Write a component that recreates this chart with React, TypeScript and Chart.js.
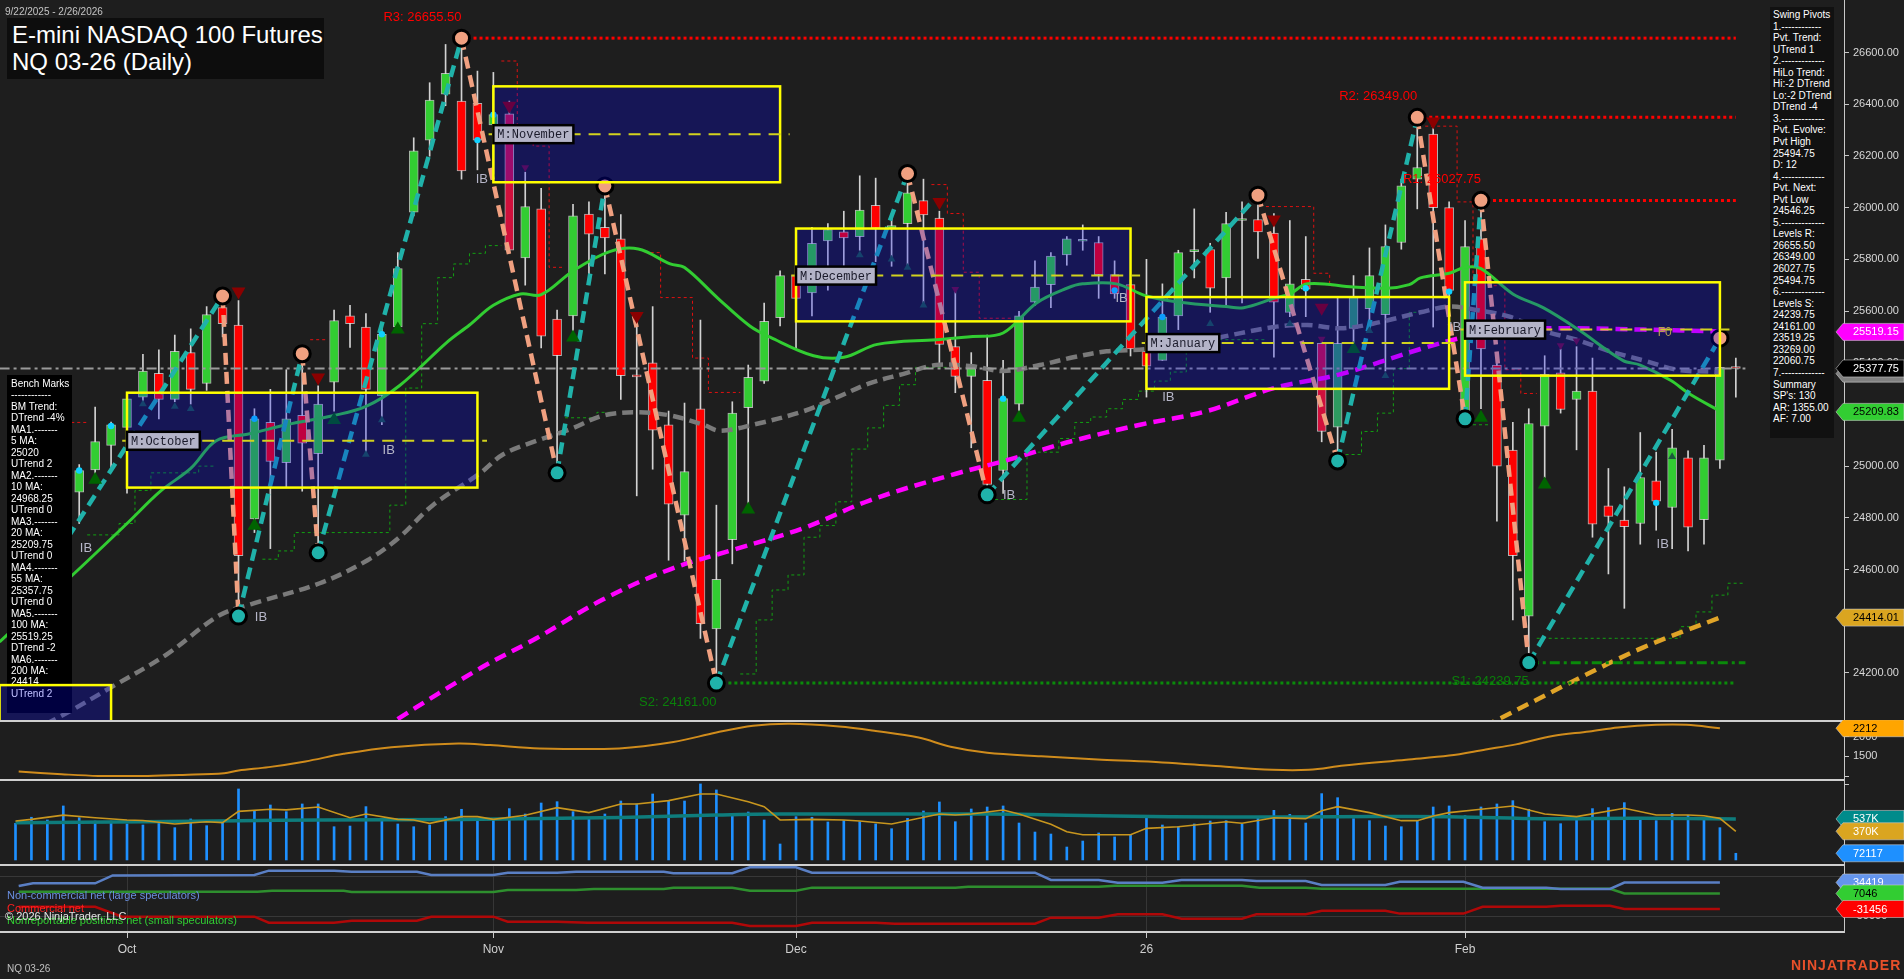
import React, { useEffect, useRef } from 'react';
import { Chart, registerables } from 'chart.js';
Chart.register(...registerables);

const FONT = '"Liberation Sans", Arial, sans-serif';
const BG = '#1e1e1e';
Chart.defaults.font.family = FONT;

// ---------------- x axis (trading-day index, 9/22/2025 = 0) ----------------
const X_MIN = -0.973;
const X_MAX = 114.79;
const xTicks = [7, 30, 49, 71, 91];
const xTickLabels = ['Oct', 'Nov', 'Dec', '26', 'Feb'];

// ---------------- daily candles ----------------
const opens = [24850,24930,24900,24760,24899,24985,25080,25150,25267,25359,
25258,25439,25320,25613,25546,24796,25169,25013,25196,25048,
25325,25581,25538,25272,25538,25982,26261,26439,26412,26403,
26320,26363,25805,25995,25569,25581,25975,25924,25879,25350,
25400,25160,24810,25222,24370,24716,25226,25329,25574,25737,
25670,25871,25906,25888,26009,25920,25938,26027,25959,25462,
25347,25332,24983,25240,25634,25702,25817,25870,25865,25741,
25702,25444,25409,25581,25830,25838,25728,25950,25954,25901,
25595,25723,25475,25151,25533,25609,25586,25865,26110,26284,
26000,25178,25879,25391,25062,24420,25155,25361,25258,25290,
24846,24791,24778,24943,24840,25032,24793,25023,25380];
const highs = [24960,25010,24950,24900,25006,25228,25170,25285,25432,25450,
25507,25531,25617,25658,25640,25222,25297,25373,25435,25311,
25604,25622,25590,25551,25826,26270,26483,26631,26655.5,26528,
26523,26412,26137,26075,25604,26013,26022,26084,25973,25560,
25617,25213,25244,25565,24849,25249,25391,25631,25755,25760,
25924,25938,25986,26123,26114,25968,26132,26110,25986,25680,
25439,25507,25409,25599,25794,25826,25888,25933,25888,25794,
25720,25800,25705,25835,25995,25862,25982,26022,26048,25977,
25950,25888,25497,25649,25737,25844,25933,26110,26349,26333,
26022,25950,26028,25400,25169,25222,25427,25453,25462,25418,
24991,24920,25130,25054,25142,25059,25080,25495,25418];
const lows = [24800,24860,24600,24690,24778,24970,24975,24895,25249,25183,
25249,25240,25293,25500,24420,24743,24681,24920,24903,24665,
25213,25459,25045,25160,25524,25968,26199,26394,26110,26146,
26130,25830,25700,25457,24974,25520,25737,25743,25258,24885,
24988,24636,24633,24334,24161,24622,24849,25320,25542,25453,
25581,25681,25720,25835,25791,25773,25773,25631,25400,25284,
25071,24889,24894,25213,25622,25613,25777,25835,25649,25649,
25426,25267,25409,25528,25728,25595,25617,25631,25803,25421,
25578,25578,25094,25020,25453,25524,25368,25839,25995,25538,
25657,25160,25222,24787,24405,24240,24956,25205,25063,24725,
24583,24450,24698,24752,24681,24672,24698,24991,25267];
const closes = [24930,24900,24760,24880,24983,25095,25160,25260,25368,25258,
25444,25297,25586,25551,24654,25183,25018,25183,25089,25240,
25563,25551,25297,25510,25764,26220,26416,26519,26142,26261,
26360,25835,26004,25503,25427,25968,25897,25883,25350,25345,
25139,24853,24979,24391,24562,25205,25343,25560,25737,25649,
25862,25915,25883,25990,25920,25930,26057,25972,25471,25347,
25382,24929,25261,25581,25693,25812,25879,25872,25741,25666,
25453,25387,25577,25826,25836,25688,25938,25955,25906,25634,
25705,25684,25134,25475,25657,25737,25849,26084,26155,26000,
25680,25849,25453,25000,24654,25165,25355,25219,25290,24775,
24805,24766,24956,24864,25071,24764,25032,25382,25377.75];
const crimsonBars = [31, 82];
const seaGreenBars = [83, 84];

// ---------------- moving averages ----------------
const ma20Idx = [-1,3.5,7,9.1,11,12.6,14.7,17,20,22,24.1,27.1,28.5,30,31.7,33,35,37.3,39.1,41.1,42,44.1,46.1,47.4,50.1,52,54.1,57.8,60.1,62,64.1,66,67,69.1,71,73.1,76,77.1,79,80,81.1,84,86.1,87.5,88.2,90,91,92,94,95.9,98,100.9,102,103.9,105.1,107];
const ma20Val = [24320,24574,24778,24903,24991,25098,25125,25160,25196,25231,25311,25480,25546,25622,25666,25663,25755,25830,25840,25782,25768,25649,25542,25498,25427,25421,25471,25489,25501,25515,25631,25688,25705,25705,25658,25634,25617,25613,25649,25666,25705,25693,25688,25702,25728,25746,25769,25764,25666,25613,25533,25409,25391,25332,25279,25213];
const ma55Idx = [-1,2.4,6.1,9.5,12.8,14.9,19.1,22.1,24.1,26.2,29.2,30.6,32.7,34.8,36.9,39,41.1,43.2,44.2,46.3,49.5,51.6,53.6,55.7,57.8,60.1,62,64.3,66.4,68.5,71,74.8,79,81.1,83.2,85.2,88.2,90,91.7,93.8,95.9,98,100.1,102.2,104.3,107];
const ma55Val = [23920,24018,24148,24272,24423,24468,24547,24636,24725,24849,24974,25045,25098,25142,25196,25208,25196,25160,25137,25160,25213,25267,25320,25356,25391,25386,25368,25391,25421,25444,25453,25489,25538,25546,25533,25551,25595,25617,25604,25578,25524,25489,25444,25409,25373,25364];
const ma100Idx = [20,23.9,29.2,32.7,36.9,41.1,45.3,49.5,53.6,58.7,62.2,66.4,70.6,74.8,79,83.2,88.2,90.9,93.8,98,102.2,107];
const ma100Val = [23860,24018,24219,24334,24485,24601,24681,24761,24867,24965,25022,25098,25160,25213,25302,25356,25453,25498,25528,25533,25528,25521];
const ma200Idx = [90,93,98,102.2,107];
const ma200Val = [23930,24018,24175,24299,24414];

// ---------------- swing pivots ----------------
const pivIdx = [2,13,14,18,19,28,34,37,44,56,61,78,83,88,91,92,95,107];
const pivPrice = [24600,25658,24420,25435,24665,26655.5,24974,26084,24161,26132,24889,26048,25020,26349,25183,26028,24240,25495];
const levelNames = ['R3','R2','R1','S2','S1'];
const levelVals = [26655.5,26349,26027.75,24161,24239.75];
const levelFrom = [28,88,92,44,95];
const levelTo = [108,108,108,108,108.6];
const lastPrice = 25377.75;

// trailing step stops
const supIdx = [5,6,7,8,9,10,11,12,16,17,18,19,20,21,22,23,24,25,26,27,28,29,30,35,36,37,46,47,48,49,50,51,52,53,54,55,56,57,58,62,63,64,65,66,67,68,69,70,71,72,73,74,75,76,77,78,84,85,86,87,88,92,96,97,98,99,100,101,102,103,104,105,106,107,108];
const supVal = [24734,24734,24778,24906,24974,24974,24974,25000,24640,24672,24743,24743,24743,24743,24743,24743,24849,25302,25551,25729,25782,25823,25853,25187,25187,25208,24196,24405,24521,24579,24725,24770,24862,25066,25148,25235,25315,25382,25382,24871,24871,25054,25054,25107,25169,25190,25222,25258,25290,25329,25364,25489,25489,25489,25489,25489,25045,25134,25205,25377,25595,25160,24334,24334,24334,24334,24334,24334,24334,24334,24334,24379,24436,24501,24547];
const resIdx = [4,19,31,32,33,34,40,41,42,43,44,45,58,59,60,61,62,79,80,81,82,83,89,90,91,92,93,94,95];
const resVal = [25169,25489,26567,26320,26238,25769,25826,25652,25652,25418,25285,25285,26089,25977,25750,25572,25572,26004,26004,26004,25746,25698,26315,26315,26022,25698,25698,25373,25281];

// markers
const bigUpIdx = [5,15,20,24,35,46,63,84,92,96];
const bigUpVal = [24947,24769,25178,25528,25498,24832,25187,25453,25187,24929];
const smallUpIdx = [8,10,11,22,23,53,55,56,57,75,80,85,86,104];
const smallUpVal = [25240,25231,25222,25045,25178,25817,25800,25768,25622,25551,25551,25524,25350,25036];
const bigDnIdx = [14,19,31,39,58,79,82,89];
const bigDnVal = [25675,25343,26394,25581,26022,25954,25613,26333];
const smallDnIdx = [32,59,82,97,98];
const smallDnVal = [26155,25684,25492,25467,25485];
const cyanIdx = [4,6,15,23,29,30,62,69,72,81,90,103];
const cyanVal = [24983,25155,25183,25510,26261,26359,25261,25680,25577,25688,25675,24858];
const ibIdx = [4.05,15.03,23.05,28.9,62,69.06,72,90,103.03];
const ibVal = [24681,24414,25059,26110,24885,25649,25265,25538,24698];

// monthly range boxes
const boxNames = ['M:October','M:November','M:December','M:January','M:February'];
const boxStart = [7,30,49,71,91];
const boxEnd = [29,48,70,90,107];
const boxHigh = [25284,26469,25919,25654,25711];
const boxLow = [24917,26098,25560,25299,25350];
const boxMid = [25098,26284,25737,25476,25528];
const sepBox = { start: -1, end: 6, high: 24153, low: 23800 };

// right-axis value tags
const mainTagVals = [25519.15, 25357.75, lastPrice, 25209.83, 24414.01];
const mainTagBg = ['#ff00ff','#808080','#000000','#32cd32','#daa520'];
const mainTagFg = ['#ffffff','#000000','#ffffff','#000000','#000000'];

// ---------------- lower panels ----------------
const atrIdx = [0.2,2.9,5.2,8.3,10.5,13.1,14,15.9,18.2,20.6,23.6,27.8,29.8,32.9,37.9,41.3,44,46.3,48.6,51.7,54,56.7,58.7,61,64.4,68.2,72,75.1,78.9,81.2,83.4,87.3,90,92.3,94.2,96.5,98.8,100.6,103,104.9,107];
const atrVal = [1114,1046,1003,1003,1028,1072,1140,1226,1371,1562,1732,1827,1784,1699,1699,1861,2103,2273,2325,2258,2144,1974,1740,1588,1500,1415,1345,1260,1157,1157,1268,1415,1518,1673,1802,2016,2129,2232,2300,2300,2212];
const atrLast = 2212;

const volumeK = [478,560,523,713,554,509,509,469,455,487,
419,537,446,487,943,645,726,636,740,740,
432,441,704,523,469,432,455,568,668,523,
545,677,604,753,771,636,541,604,780,740,
875,780,780,1011,930,600,631,523,198,568,
560,496,514,500,469,405,545,645,767,500,
672,699,713,482,360,333,157,238,347,293,
315,554,455,432,469,509,514,464,568,654,
600,482,880,825,541,514,441,432,509,699,
713,581,699,740,785,668,500,473,541,677,
690,758,541,514,613,586,527,419,72.117];
const volAvgIdx = [0,1,3,5,7,8,10,12,13,14,16,17,19,21,22,24,25,26,28,29,30,32,34,36,38,39,41,43,44,46,47,48,50,52,53,55,58,59,60,62,63,65,66,67,70,71,73,76,77,79,81,82,83,85,87,88,89,90,92,94,96,98,101,103,105,106,107,108];
const volAvgK = [509,531,589,554,523,516,469,500,487,640,668,660,699,554,604,531,523,478,568,568,531,586,690,623,740,740,785,875,875,771,704,523,531,523,509,469,604,590,604,658,604,464,364,324,324,410,432,500,478,554,541,649,704,623,514,514,577,623,668,713,604,568,681,590,590,581,545,370];
const volSlowIdx = [0,8,14,19,28,38,44,48,53,59,63,69,76,83,90,96,102,108];
const volSlowK = [487,500,514,523,531,558,590,604,604,604,600,577,563,568,568,541,545,537];
const volTagVals = [537000, 370000, 72117];
const volTagText = ['537K','370K','72117'];
const volTagBg = ['#008b8b','#daa520','#1e90ff'];

const cotLargeIdx = [0.2,1.1,5,6.1,15,15.9,20,21.1,25.2,26.1,30,30.9,34,35.2,40.7,41.3,45,46.1,49,50,64,65,68,69.2,72,73.2,77,77.9,81,82,86,86.9,90.9,92.1,96.1,97,100.1,101,107];
const cotLargeVal = [25700,32400,32400,52000,53000,63800,63800,61300,61300,53100,53100,58800,58800,61300,61300,57300,57300,72200,72200,58800,58800,40600,40600,34000,34000,40600,40600,38100,38100,28200,28200,36400,36400,21600,21600,18200,18200,34419,34419];
const cotCommIdx = [0.2,5,6.7,15,15.9,20,21.1,25.2,26.1,30,30.9,34,35.9,45,46.1,49,50,54,55.2,64,65,68,69.2,72,73.2,77,77.9,81,82,86,86.9,90.9,92.1,96.1,97,100.1,101,107];
const cotCommVal = [-25800,-25800,-50600,-50600,-65600,-65600,-60600,-60600,-50600,-50600,-63100,-63100,-65600,-65600,-73800,-73800,-65600,-65600,-68000,-68000,-53100,-53100,-44700,-44700,-55600,-55600,-44700,-44700,-35700,-35700,-43000,-43000,-25800,-25800,-23300,-23300,-31456,-31456];
const cotSmallIdx = [0.2,15.2,16.1,20.6,21.1,30,30.9,35.2,36.3,40.7,41.3,45,46.1,49,50,59,59.8,68,69,77,78.1,81,82,100.1,101,107];
const cotSmallVal = [11500,11500,14000,14000,10800,10800,15800,15800,18200,18200,21600,21600,14000,14000,21600,21600,24000,24000,26500,26500,21600,21600,19000,19000,7046,7046];
const cotTagVals = [34419, 7046, -31456];
const cotTagBg = ['#6495ed','#32cd32','#ff0000'];
const cotTagFg = ['#ffffff','#000000','#ffffff'];

// ---------------- text blocks ----------------
const benchLines = ['Bench Marks','------------','BM Trend:','DTrend -4%','MA1.-------','5 MA:','25020','UTrend 2','MA2.-------','10 MA:','24968.25','UTrend 0','MA3.-------','20 MA:','25209.75','UTrend 0','MA4.-------','55 MA:','25357.75','UTrend 0','MA5.-------','100 MA:','25519.25','DTrend -2','MA6.-------','200 MA:','24414','UTrend 2'];
const pivotLines = ['Swing Pivots','1.------------','Pvt. Trend:','UTrend 1','2.-------------','HiLo Trend:','Hi:-2 DTrend','Lo:-2 DTrend','DTrend -4','3.-------------','Pvt. Evolve:','Pvt High','25494.75','D: 12','4.-------------','Pvt. Next:','Pvt Low','24546.25','5.-------------','Levels R:','26655.50','26349.00','26027.75','25494.75','6.-------------','Levels S:','24239.75','24161.00','23519.25','23269.00','22060.75','7.-------------','Summary',"SP's: 130",'AR: 1355.00','AF: 7.00'];

// ---------------- helpers ----------------
const pts = (xs: number[], ys: number[]) => xs.map((x, i) => ({ x, y: ys[i] }));
function stepPts(idx: number[], val: number[]) {
  const out: any[] = [];
  idx.forEach((i, k) => {
    if (k > 0 && idx[k - 1] !== i - 1) out.push({ x: i - 0.75, y: null });
    out.push({ x: i - 0.5, y: val[k] }, { x: i + 0.5, y: val[k] });
  });
  return out;
}
function drawTag(ctx: any, y: number, text: string, bg: string, fg: string) {
  ctx.save();
  ctx.beginPath();
  ctx.moveTo(1836, y);
  ctx.lineTo(1843, y - 8.5);
  ctx.lineTo(1904, y - 8.5);
  ctx.lineTo(1904, y + 8.5);
  ctx.lineTo(1843, y + 8.5);
  ctx.closePath();
  ctx.fillStyle = bg;
  ctx.fill();
  ctx.strokeStyle = 'rgba(200,200,200,0.6)';
  ctx.lineWidth = 1;
  ctx.stroke();
  ctx.fillStyle = fg;
  ctx.font = '11px ' + FONT;
  ctx.textBaseline = 'middle';
  ctx.textAlign = 'left';
  ctx.fillText(text, 1853, y + 0.5);
  ctx.restore();
}
function rightAxis(min: number, max: number, ticks: number[], fmt: (v: number) => string, gridOnArea = false) {
  return {
    position: 'right', min, max,
    afterBuildTicks: (s: any) => { s.ticks = ticks.map((v) => ({ value: v })); },
    afterFit: (s: any) => { s.width = 60; s.paddingTop = 0; s.paddingBottom = 0; },
    ticks: { color: '#d8d8d8', font: { size: 11, family: FONT }, padding: 4, autoSkip: false, callback: (v: number) => fmt(v) },
    grid: { drawOnChartArea: gridOnArea, drawTicks: true, tickLength: 5, color: '#383838', tickColor: '#c8c8c8' },
    border: { display: true, color: '#c8c8c8', width: 1 },
  };
}
const hiddenX = { type: 'linear', min: X_MIN, max: X_MAX, display: false, offset: false };
const baseOpts = { responsive: false, animation: false, devicePixelRatio: 1, events: [], layout: { padding: 0, autoPadding: false }, plugins: { legend: { display: false }, tooltip: { enabled: false } } };
const separator = { id: 'sep', afterDraw(chart: any) { const c = chart.ctx; c.save(); c.fillStyle = '#cfcfcf'; c.fillRect(0, 0, 1844, 2); c.restore(); } };

// ---------------- main panel ----------------
function makeMain() {
  const ii = opens.map((_, i) => i);
  const bodyColor = ii.map((i) => crimsonBars.includes(i) ? '#d0103c' : seaGreenBars.includes(i) ? '#2e9a60' : closes[i] >= opens[i] ? '#32cd32' : '#ff0000');
  const pivColors = pivPrice.map((p, k) => {
    const ref = k > 0 ? pivPrice[k - 1] : pivPrice[k + 1];
    return p > ref ? '#f0a080' : '#20b2aa';
  });
  const lineDs = (data: any[], color: string, width: number, dash: number[], order: number, tension = 0.35) => ({
    type: 'line', data, borderColor: color, borderWidth: width, borderDash: dash, pointRadius: 0, tension, order, spanGaps: false, fill: false,
  });
  const markDs = (xs: number[], ys: number[], color: string, r: number, style: string, rot: number) => ({
    type: 'line', data: pts(xs, ys), showLine: false, pointRadius: r, pointStyle: style, pointRotation: rot,
    pointBackgroundColor: color, pointBorderColor: color, pointBorderWidth: 0, order: 2,
  });
  const datasets: any[] = [
    { type: 'bar', data: ii.map((i) => ({ x: i, y: [lows[i], highs[i]] })), backgroundColor: '#d2d2d2', barThickness: 1, grouped: false, order: 9, minBarLength: 1 },
    { type: 'bar', data: ii.map((i) => ({ x: i, y: [opens[i], closes[i]] })), backgroundColor: bodyColor, borderColor: 'rgba(225,225,225,0.75)', borderWidth: 1, borderSkipped: false, barThickness: 9, grouped: false, order: 8, minBarLength: 2 },
    lineDs(stepPts(supIdx, supVal), '#12a012', 1, [3, 3], 10, 0),
    lineDs(stepPts(resIdx, resVal), '#e01010', 1, [3, 3], 10, 0),
    lineDs(pts(ma55Idx, ma55Val), '#7a7a7a', 4.5, [11, 6], 7),
    lineDs(pts(ma100Idx, ma100Val), '#ff00ff', 4.5, [12, 7], 7),
    lineDs(pts(ma200Idx, ma200Val), '#e0a428', 4.5, [12, 7], 7),
    lineDs(pts(ma20Idx, ma20Val), '#32cd32', 3, [], 6),
    lineDs([{ x: -1, y: lastPrice }, { x: 108.6, y: lastPrice }], '#9a9a9a', 2, [10, 4, 3, 4], 5, 0),
  ];
  levelNames.forEach((nm, k) => {
    const isR = nm[0] === 'R';
    const dash = nm === 'S1' ? [10, 4, 3, 4] : [3, 3];
    datasets.push(lineDs([{ x: levelFrom[k], y: levelVals[k] }, { x: levelTo[k], y: levelVals[k] }], isR ? '#ff0000' : '#0a8a0a', 3, dash, 5, 0));
  });
  datasets.push({
    type: 'line', data: pts(pivIdx, pivPrice), borderWidth: 4.5, borderDash: [12, 7], tension: 0, order: 3,
    segment: { borderColor: (c: any) => (c.p1.parsed.y > c.p0.parsed.y ? '#20b2aa' : '#f0a080') },
    borderColor: '#20b2aa',
    pointRadius: 8, pointBackgroundColor: pivColors, pointBorderColor: '#000000', pointBorderWidth: 3,
  });
  datasets.push(markDs(bigUpIdx, bigUpVal, '#006400', 8, 'triangle', 0));
  datasets.push(markDs(smallUpIdx, smallUpVal, '#1c5a3c', 4.5, 'triangle', 0));
  datasets.push(markDs(bigDnIdx, bigDnVal, '#8b0000', 8, 'triangle', 180));
  datasets.push(markDs(smallDnIdx, smallDnVal, '#701030', 4.5, 'triangle', 180));
  datasets.push(markDs(cyanIdx, cyanVal, '#10d0ff', 3.2, 'circle', 0));

  const overlay = {
    id: 'overlay',
    afterDatasetsDraw(chart: any) {
      const { ctx, chartArea: a, scales } = chart;
      const X = (v: number) => scales.x.getPixelForValue(v);
      const Y = (v: number) => scales.y.getPixelForValue(v);
      ctx.save();
      ctx.beginPath();
      ctx.rect(a.left, a.top, a.right - a.left, a.bottom - a.top);
      ctx.clip();
      const drawBox = (s: number, e: number, hi: number, lo: number) => {
        const x0 = X(s), x1 = X(e), y0 = Y(hi), y1 = Y(lo);
        ctx.setLineDash([]);
        ctx.fillStyle = 'rgba(0,0,255,0.25)';
        ctx.fillRect(x0, y0, x1 - x0, y1 - y0);
        ctx.strokeStyle = '#ffff00';
        ctx.lineWidth = 2.5;
        ctx.strokeRect(x0, y0, x1 - x0, y1 - y0);
      };
      boxStart.forEach((s, k) => {
        drawBox(s, boxEnd[k], boxHigh[k], boxLow[k]);
        ctx.strokeStyle = '#d2d21e';
        ctx.lineWidth = 2;
        ctx.setLineDash([12, 8]);
        ctx.beginPath();
        ctx.moveTo(X(s - 0.3), Y(boxMid[k]));
        ctx.lineTo(X(boxEnd[k] + 0.6), Y(boxMid[k]));
        ctx.stroke();
      });
      ctx.setLineDash([]);
      ctx.font = '12px "Liberation Mono", "DejaVu Sans Mono", monospace';
      ctx.textBaseline = 'middle';
      ctx.textAlign = 'left';
      boxNames.forEach((nm, k) => {
        const w = ctx.measureText(nm).width + 8;
        const lx = X(boxStart[k]);
        const ly = Y(boxMid[k]);
        ctx.fillStyle = '#b4b4c8';
        ctx.fillRect(lx, ly - 9, w, 18);
        ctx.strokeStyle = '#000000';
        ctx.lineWidth = 2.5;
        ctx.strokeRect(lx, ly - 9, w, 18);
        ctx.fillStyle = '#1a1a2a';
        ctx.fillText(nm, lx + 4, ly + 1);
      });
      ctx.font = '12px ' + FONT;
      ctx.fillStyle = '#b4a050';
      ctx.fillText('F0', X(103.1), Y(boxMid[4]) + 3);
      ctx.font = '13px ' + FONT;
      ctx.textAlign = 'right';
      levelNames.forEach((nm, k) => {
        const isR = nm[0] === 'R';
        ctx.fillStyle = isR ? '#ff0000' : '#0a800a';
        ctx.fillText(nm + ': ' + levelVals[k].toFixed(2), X(levelFrom[k]), Y(levelVals[k]) + (isR ? -21 : 19));
      });
      ctx.textAlign = 'center';
      ctx.fillStyle = '#b6b6c8';
      ibIdx.forEach((v, k) => ctx.fillText('IB', X(v) + 6, Y(ibVal[k])));
      ctx.textAlign = 'left';
      ctx.fillStyle = '#000000';
      ctx.fillRect(7, 375, 65, 338);
      ctx.fillStyle = '#ffffff';
      ctx.font = '10px ' + FONT;
      benchLines.forEach((t, k) => ctx.fillText(t, 11, 384 + k * 11.49));
      drawBox(sepBox.start, sepBox.end, sepBox.high, sepBox.low);
      ctx.restore();
    },
    afterDraw(chart: any) {
      const y = chart.scales.y;
      mainTagVals.forEach((v, k) => drawTag(chart.ctx, y.getPixelForValue(v), v.toFixed(2), mainTagBg[k], mainTagFg[k]));
    },
  };

  return {
    type: 'bar',
    data: { datasets },
    options: {
      ...baseOpts,
      scales: {
        x: hiddenX,
        y: rightAxis(24018, 26803, [24200, 24400, 24600, 24800, 25000, 25200, 25400, 25600, 25800, 26000, 26200, 26400, 26600], (v) => v.toFixed(2)),
      },
    },
    plugins: [overlay],
  };
}

function makeAtr() {
  const tag = { id: 'tag', afterDraw(chart: any) { drawTag(chart.ctx, chart.scales.y.getPixelForValue(atrLast), String(atrLast), '#ffa500', '#000000'); } };
  return {
    type: 'line',
    data: { datasets: [{ data: pts(atrIdx, atrVal), borderColor: '#d08c1c', borderWidth: 2, pointRadius: 0, tension: 0.35 }] },
    options: { ...baseOpts, scales: { x: hiddenX, y: rightAxis(925, 2420, [1000, 1500, 2000], (v) => (v === 1000 ? '' : String(v))) } },
    plugins: [separator, tag],
  };
}

function makeVol() {
  const tag = { id: 'tag', afterDraw(chart: any) { volTagVals.forEach((v, k) => drawTag(chart.ctx, chart.scales.y.getPixelForValue(v), volTagText[k], volTagBg[k], '#ffffff')); } };
  return {
    type: 'bar',
    data: {
      datasets: [
        { type: 'line', data: pts(volAvgIdx, volAvgK.map((v) => v * 1000)), borderColor: '#c8961e', borderWidth: 1.6, pointRadius: 0, tension: 0, order: 1 },
        { type: 'line', data: pts(volSlowIdx, volSlowK.map((v) => v * 1000)), borderColor: '#0e7c7c', borderWidth: 3.5, pointRadius: 0, tension: 0.4, order: 2 },
        { type: 'bar', data: volumeK.map((v, i) => ({ x: i, y: v * 1000 })), backgroundColor: '#1e90ff', barThickness: 2, grouped: false, base: -18000, order: 3 },
      ],
    },
    options: { ...baseOpts, scales: { x: hiddenX, y: rightAxis(-73000, 1078000, [1000000], () => '') } },
    plugins: [separator, tag],
  };
}

function makeCot() {
  const tag = { id: 'tag', afterDraw(chart: any) { cotTagVals.forEach((v, k) => drawTag(chart.ctx, chart.scales.y.getPixelForValue(v), String(v), cotTagBg[k], cotTagFg[k])); } };
  return {
    type: 'line',
    data: {
      datasets: [
        { data: pts(cotLargeIdx, cotLargeVal), borderColor: '#5a7fc4', borderWidth: 2.5, pointRadius: 0, tension: 0 },
        { data: pts(cotSmallIdx, cotSmallVal), borderColor: '#2e8f2e', borderWidth: 2.5, pointRadius: 0, tension: 0 },
        { data: pts(cotCommIdx, cotCommVal), borderColor: '#b00808', borderWidth: 2.5, pointRadius: 0, tension: 0 },
      ],
    },
    options: {
      ...baseOpts,
      scales: {
        x: {
          type: 'linear', min: X_MIN, max: X_MAX, offset: false,
          afterBuildTicks: (s: any) => { s.ticks = xTicks.map((v) => ({ value: v })); },
          afterFit: (s: any) => { s.height = 47; s.paddingLeft = 0; s.paddingRight = 0; },
          ticks: { color: '#d0d0d0', font: { size: 12, family: FONT }, autoSkip: false, maxRotation: 0, padding: 4, callback: (_v: any, i: number) => xTickLabels[i] },
          grid: { drawOnChartArea: true, color: '#363636', tickColor: '#c8c8c8', tickLength: 6 },
          border: { display: true, color: '#cfcfcf', width: 2 },
        },
        y: rightAxis(-88700, 80400, [-50000, 50000], (v) => (v === -50000 ? '-50000' : ''), true),
      },
    },
    plugins: [separator, tag],
  };
}

function ChartCanvas({ top, height, make }: { top: number; height: number; make: () => any }) {
  const ref = useRef<HTMLCanvasElement>(null);
  useEffect(() => {
    const chart = new Chart(ref.current as HTMLCanvasElement, make());
    return () => chart.destroy();
  }, []);
  return <canvas ref={ref} width={1904} height={height} style={{ position: 'absolute', left: 0, top, width: 1904, height }} />;
}

const abs = (left: number, top: number, extra: any = {}) => ({ position: 'absolute' as const, left, top, whiteSpace: 'pre' as const, ...extra });

export default function App() {
  return (
    <div style={{ position: 'fixed', left: 0, top: 0, width: 1904, height: 979, background: BG, overflow: 'hidden', fontFamily: FONT }}>
      <ChartCanvas top={0} height={720} make={makeMain} />
      <ChartCanvas top={720} height={59} make={makeAtr} />
      <ChartCanvas top={779} height={85} make={makeVol} />
      <ChartCanvas top={864} height={115} make={makeCot} />

      <div style={abs(5, 5, { fontSize: 10, color: '#c4c4c4', lineHeight: '13px' })}>9/22/2025 - 2/26/2026</div>
      <div style={abs(7, 18, { width: 317, height: 61, background: '#0d0d0d' })} />
      <div style={abs(12, 22, { fontSize: 24, lineHeight: '26.7px', color: '#ffffff' })}>
        {'E-mini NASDAQ 100 Futures\nNQ 03-26 (Daily)'}
      </div>

      <div style={abs(1770, 7, { width: 64, height: 431, background: '#111111', color: '#ffffff', fontSize: 10, lineHeight: '11.54px', paddingLeft: 3, paddingTop: 2, boxSizing: 'border-box' })}>
        {pivotLines.map((t, i) => <div key={i}>{t}</div>)}
      </div>

      <div style={abs(7, 889, { fontSize: 11, lineHeight: '13px', color: '#6a8fe0' })}>Non-commercial net (large speculators)</div>
      <div style={abs(7, 902, { fontSize: 11, lineHeight: '13px', color: '#ff2020' })}>Commercial net</div>
      <div style={abs(7, 914, { fontSize: 11, lineHeight: '13px', color: '#32cd32' })}>Nonreportable positions net (small speculators)</div>
      <div style={abs(5, 910, { fontSize: 11, lineHeight: '13px', color: '#e4e4e4' })}>© 2026 NinjaTrader, LLC</div>

      <div style={abs(7, 963, { fontSize: 10, lineHeight: '12px', color: '#c0c0c0' })}>NQ 03-26</div>
      <div style={abs(1791, 957, { fontSize: 14, fontWeight: 700, letterSpacing: '1px', lineHeight: '16px', color: '#e8502a' })}>NINJATRADER</div>
    </div>
  );
}
